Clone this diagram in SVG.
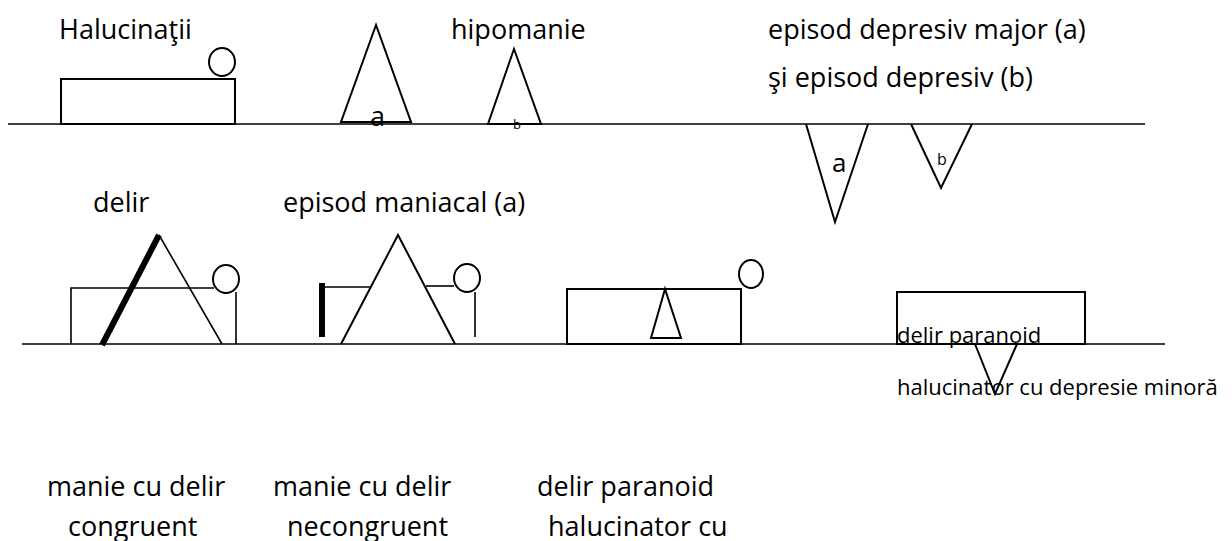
<svg xmlns="http://www.w3.org/2000/svg" width="1232" height="541" viewBox="0 0 1232 541">
<style>
.s{fill:none;stroke:#000;stroke-width:2}
.g{fill:none;stroke:#000;stroke-width:1.6}
.t{font-family:"Open Sans","Noto Sans",sans-serif;font-size:27px;fill:#000}
.m{font-size:22px}
.th{stroke:#000;stroke-width:6;fill:none}
</style>
<rect width="1232" height="541" fill="#fff"/>
<g id="baselines">
<line class="g" x1="8" y1="124" x2="1145" y2="124"/>
<line class="g" x1="22" y1="344" x2="1165" y2="344"/>
</g>
<g id="halucinatii">
<text class="t" x="59" y="39">Halucinaţii</text>
<rect class="s" x="61" y="79" width="174" height="45"/>
<ellipse class="s" cx="222" cy="62" rx="13" ry="14"/>
</g>
<g id="triangle-a">
<polygon class="s" points="376,25 341,122 411,122"/>
<text class="t" x="370" y="126" style="font-size:27px">a</text>
</g>
<g id="hipomanie">
<text class="t" x="451" y="39">hipomanie</text>
<polygon class="s" points="514,49 488,124 541,124"/>
<text class="t" x="513" y="129" style="font-size:13px">b</text>
</g>
<g id="episod-depresiv">
<text class="t" x="768" y="39">episod depresiv major (a)</text>
<text class="t" x="768" y="87">şi episod depresiv (b)</text>
<polyline class="s" points="806,124 835,222 868,124"/>
<text class="t" x="832" y="172" style="font-size:26px">a</text>
<polyline class="s" points="911,124 941,188 972,124"/>
<text class="t" x="937" y="165" style="font-size:16px">b</text>
</g>
<g id="delir">
<text class="t" x="93" y="212">delir</text>
<polyline class="g" points="71,344 71,288 214,288"/>
<line class="g" x1="236" y1="292" x2="236" y2="344"/>
<ellipse class="s" cx="226" cy="279" rx="13" ry="14"/>
<line class="th" x1="102" y1="345" x2="159" y2="235"/>
<line class="g" x1="159" y1="235" x2="222" y2="344"/>
</g>
<g id="episod-maniacal">
<text class="t" x="283" y="212">episod maniacal (a)</text>
<line class="th" x1="322" y1="283" x2="322" y2="337"/>
<line class="g" x1="322" y1="287" x2="370" y2="287"/>
<polyline class="s" points="341,344 398,235 455,344"/>
<line class="g" x1="426" y1="286" x2="454" y2="286"/>
<ellipse class="s" cx="467" cy="278" rx="13" ry="14"/>
<line class="g" x1="475" y1="292" x2="475" y2="337"/>
</g>
<g id="delir-paranoid-1">
<rect class="s" x="567" y="289" width="174" height="55"/>
<polygon class="s" points="665,289 651,338 681,338"/>
<ellipse class="s" cx="751" cy="274" rx="12" ry="14"/>
</g>
<g id="delir-paranoid-2">
<rect class="s" x="897" y="292" width="188" height="52"/>
<text class="t m" x="897" y="343">delir paranoid</text>
<polyline class="s" points="975,344 995,394 1017,344"/>
<text class="t m" x="897" y="395">halucinator cu depresie minoră</text>
</g>
<g id="captions">
<text class="t" x="47" y="496">manie cu delir</text>
<text class="t" x="68" y="536">congruent</text>
<text class="t" x="273" y="496">manie cu delir</text>
<text class="t" x="287" y="536">necongruent</text>
<text class="t" x="537" y="496">delir paranoid</text>
<text class="t" x="548" y="536">halucinator cu</text>
</g>
</svg>
